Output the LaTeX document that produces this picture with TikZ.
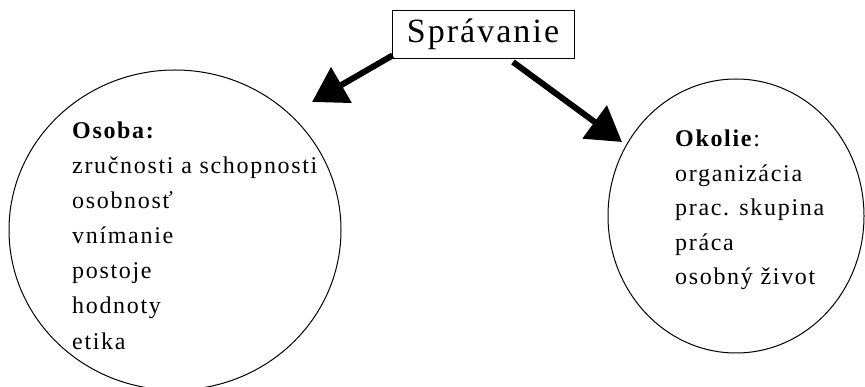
\documentclass[tikz,border=0pt]{standalone}
\usepackage{fontspec}
\setmainfont{Liberation Serif}
\newfontfamily\bodyfont[LetterSpace=7]{Liberation Serif}
\newfontfamily\titlefont[LetterSpace=6]{Liberation Serif}
\usetikzlibrary{arrows.meta}
\begin{document}
\begin{tikzpicture}[x=1pt,y=-1pt,
  txt/.style={anchor=base west,inner sep=0pt,font=\bodyfont\fontsize{24}{28}\selectfont},
  bigarrow/.style={line width=6pt,-{Triangle[length=34pt,width=40pt]}},
  ring/.style={draw,line width=1pt}]
\useasboundingbox (0,0) rectangle (865,387);
\node[draw,line width=0.8pt,minimum width=182pt,minimum height=48pt,inner sep=0pt,
  font=\titlefont\fontsize{34}{38}\selectfont] (title) at (483,34) {Správanie};
\draw[ring] (175,230) ellipse [x radius=166, y radius=160];
\draw[ring] (736,216) ellipse [x radius=128, y radius=137];
\coordinate (lt) at (312,102);
\coordinate (rt) at (622,142);
\draw[bigarrow] (title.south west) ++(1,-3) -- (lt);
\draw[bigarrow] (513,62) -- (rt);
\node[txt] (o0) at (72,139) {\textbf{Osoba:}};
\node[txt] (o1) at (72,174) {zručnosti a schopnosti};
\node[txt] (o2) at (72,209) {osobnosť};
\node[txt] (o3) at (72,244) {vnímanie};
\node[txt] (o4) at (72,279) {postoje};
\node[txt] (o5) at (72,314) {hodnoty};
\node[txt] (o6) at (72,349) {etika};
\node[txt] (k0) at (675,147) {\textbf{Okolie}:};
\node[txt] (k1) at (675,181.5) {organizácia};
\node[txt] (k2) at (675,216) {prac. skupina};
\node[txt] (k3) at (675,250.5) {práca};
\node[txt] (k4) at (675,285) {osobný život};
\end{tikzpicture}
\end{document}
